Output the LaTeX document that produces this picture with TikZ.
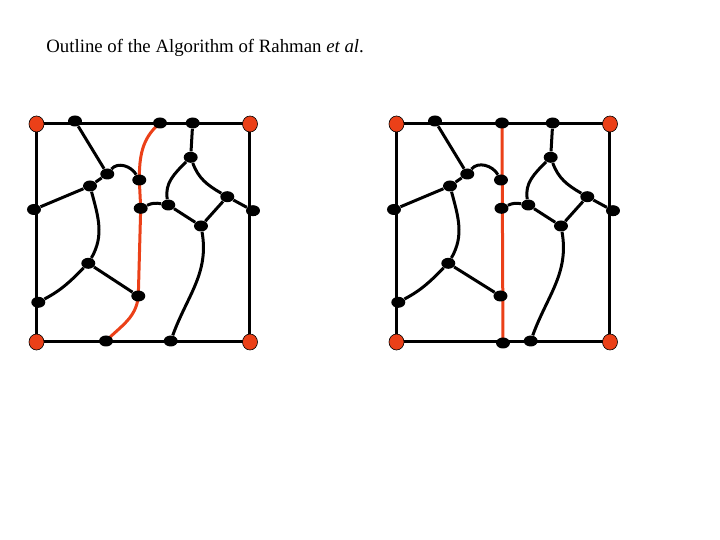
\documentclass[tikz,border=0pt]{standalone}
\usepackage{fontspec}
\setmainfont{Liberation Serif}
\usepackage{tikz}
\usetikzlibrary{shapes.geometric,backgrounds}
\definecolor{cutred}{RGB}{235,64,24}
\tikzstyle{vtx} = [ellipse, fill=black, minimum width=7pt, minimum height=5.5pt, inner sep=0pt]
\tikzstyle{term} = [ellipse, fill=cutred, draw=black, line width=0.3pt, minimum width=7.5pt, minimum height=8pt, inner sep=0pt]
\tikzstyle{edge} = [line width=1.5pt, draw=black]
\tikzstyle{cut} = [line width=1.5pt, draw=cutred]

\begin{document}
\begin{tikzpicture}[x=0.5pt,y=-0.5pt]
\useasboundingbox (0,0) rectangle (720,540);
\node (title) [anchor=base west, inner sep=0pt, font=\fontsize{9.4}{11}\selectfont] at (46,53) {Outline of the Algorithm of Rahman \textit{et al}.};

% left graph: cut follows a curve
\node (LTL) [term] at (36.5,124) {};
\node (LTR) [term] at (250,124) {};
\node (LBL) [term] at (36.5,342) {};
\node (LBR) [term] at (250,342) {};
\node (La1) [vtx] at (75,121) {};
\node (La2) [vtx] at (160,123) {};
\node (La3) [vtx] at (192.7,123) {};
\node (Lb1) [vtx] at (106,341) {};
\node (Lb2) [vtx] at (170.7,341) {};
\node (Ll1) [vtx] at (34,209.5) {};
\node (Ll2) [vtx] at (38.3,302.3) {};
\node (Lr1) [vtx] at (253,210.7) {};
\node (Ln1) [vtx] at (107.3,174) {};
\node (Ln2) [vtx] at (90,186) {};
\node (Ln3) [vtx] at (139.3,180) {};
\node (Ln4) [vtx] at (140.7,208.3) {};
\node (Ln5) [vtx] at (168.3,205) {};
\node (Ln6) [vtx] at (190.7,157.3) {};
\node (Ln7) [vtx] at (227.3,196.7) {};
\node (Ln8) [vtx] at (201,226) {};
\node (Ln9) [vtx] at (88.3,263.3) {};
\node (Ln10) [vtx] at (138.3,296) {};

\begin{scope}[on background layer]
\draw [edge] (LTL.center) rectangle (LBR.center);
\draw [edge] (La1) -- (Ln1);
\draw [edge] (Ln1) -- (Ln2);
\draw [edge] (Ln1) to[out=50,in=120] (Ln3);
\draw [edge] (Ln2) -- (Ll1);
\draw [edge] (Ln2) to[out=-75,in=60] (Ln9);
\draw [edge] (Ln9) to[out=-135,in=28] (Ll2);
\draw [edge] (Ln9) -- (Ln10);
\draw [edge] (Ln4) to[out=25,in=170] (Ln5);
\draw [edge] (Ln5) to[out=100,in=-135] (Ln6);
\draw [edge] (Ln6) -- (La3);
\draw [edge] (Ln6) to[out=-70,in=150] (Ln7);
\draw [edge] (Ln7) -- (Lr1);
\draw [edge] (Ln7) -- (Ln8);
\draw [edge] (Ln5) -- (Ln8);
\draw [edge] (Ln8) to[out=-80,in=70] (Lb2);
\draw [cut] (La2.center) to[out=-140,in=90] (Ln3.center) -- (Ln4.center) -- (Ln10.center) to[out=-95,in=45] (Lb1.center);
\end{scope}

% right graph: cut straightened
\begin{scope}[xshift=180pt]
\node (RTL) [term] at (36.5,124) {};
\node (RTR) [term] at (250,124) {};
\node (RBL) [term] at (36.5,342) {};
\node (RBR) [term] at (250,342) {};
\node (Ra1) [vtx] at (75,121) {};
\node (Ra2) [vtx] at (142,123) {};
\node (Ra3) [vtx] at (192.7,123) {};
\node (Rb1) [vtx] at (143,343) {};
\node (Rb2) [vtx] at (170.7,341) {};
\node (Rl1) [vtx] at (34,209.5) {};
\node (Rl2) [vtx] at (38.3,302.3) {};
\node (Rr1) [vtx] at (253,210.7) {};
\node (Rn1) [vtx] at (107.3,174) {};
\node (Rn2) [vtx] at (90,186) {};
\node (Rn3) [vtx] at (141,180) {};
\node (Rn4) [vtx] at (141.5,208.3) {};
\node (Rn5) [vtx] at (168.3,205) {};
\node (Rn6) [vtx] at (190.7,157.3) {};
\node (Rn7) [vtx] at (227.3,196.7) {};
\node (Rn8) [vtx] at (201,226) {};
\node (Rn9) [vtx] at (88.3,263.3) {};
\node (Rn10) [vtx] at (140.5,296) {};
\end{scope}

\begin{scope}[on background layer]
\draw [edge] (RTL.center) rectangle (RBR.center);
\draw [edge] (Ra1) -- (Rn1);
\draw [edge] (Rn1) -- (Rn2);
\draw [edge] (Rn1) to[out=50,in=120] (Rn3);
\draw [edge] (Rn2) -- (Rl1);
\draw [edge] (Rn2) to[out=-75,in=60] (Rn9);
\draw [edge] (Rn9) to[out=-135,in=28] (Rl2);
\draw [edge] (Rn9) -- (Rn10);
\draw [edge] (Rn4) to[out=25,in=170] (Rn5);
\draw [edge] (Rn5) to[out=100,in=-135] (Rn6);
\draw [edge] (Rn6) -- (Ra3);
\draw [edge] (Rn6) to[out=-70,in=150] (Rn7);
\draw [edge] (Rn7) -- (Rr1);
\draw [edge] (Rn7) -- (Rn8);
\draw [edge] (Rn5) -- (Rn8);
\draw [edge] (Rn8) to[out=-80,in=70] (Rb2);
\draw [cut] (Ra2.center) -- (Rb1.center);
\end{scope}
\end{tikzpicture}
\end{document}
